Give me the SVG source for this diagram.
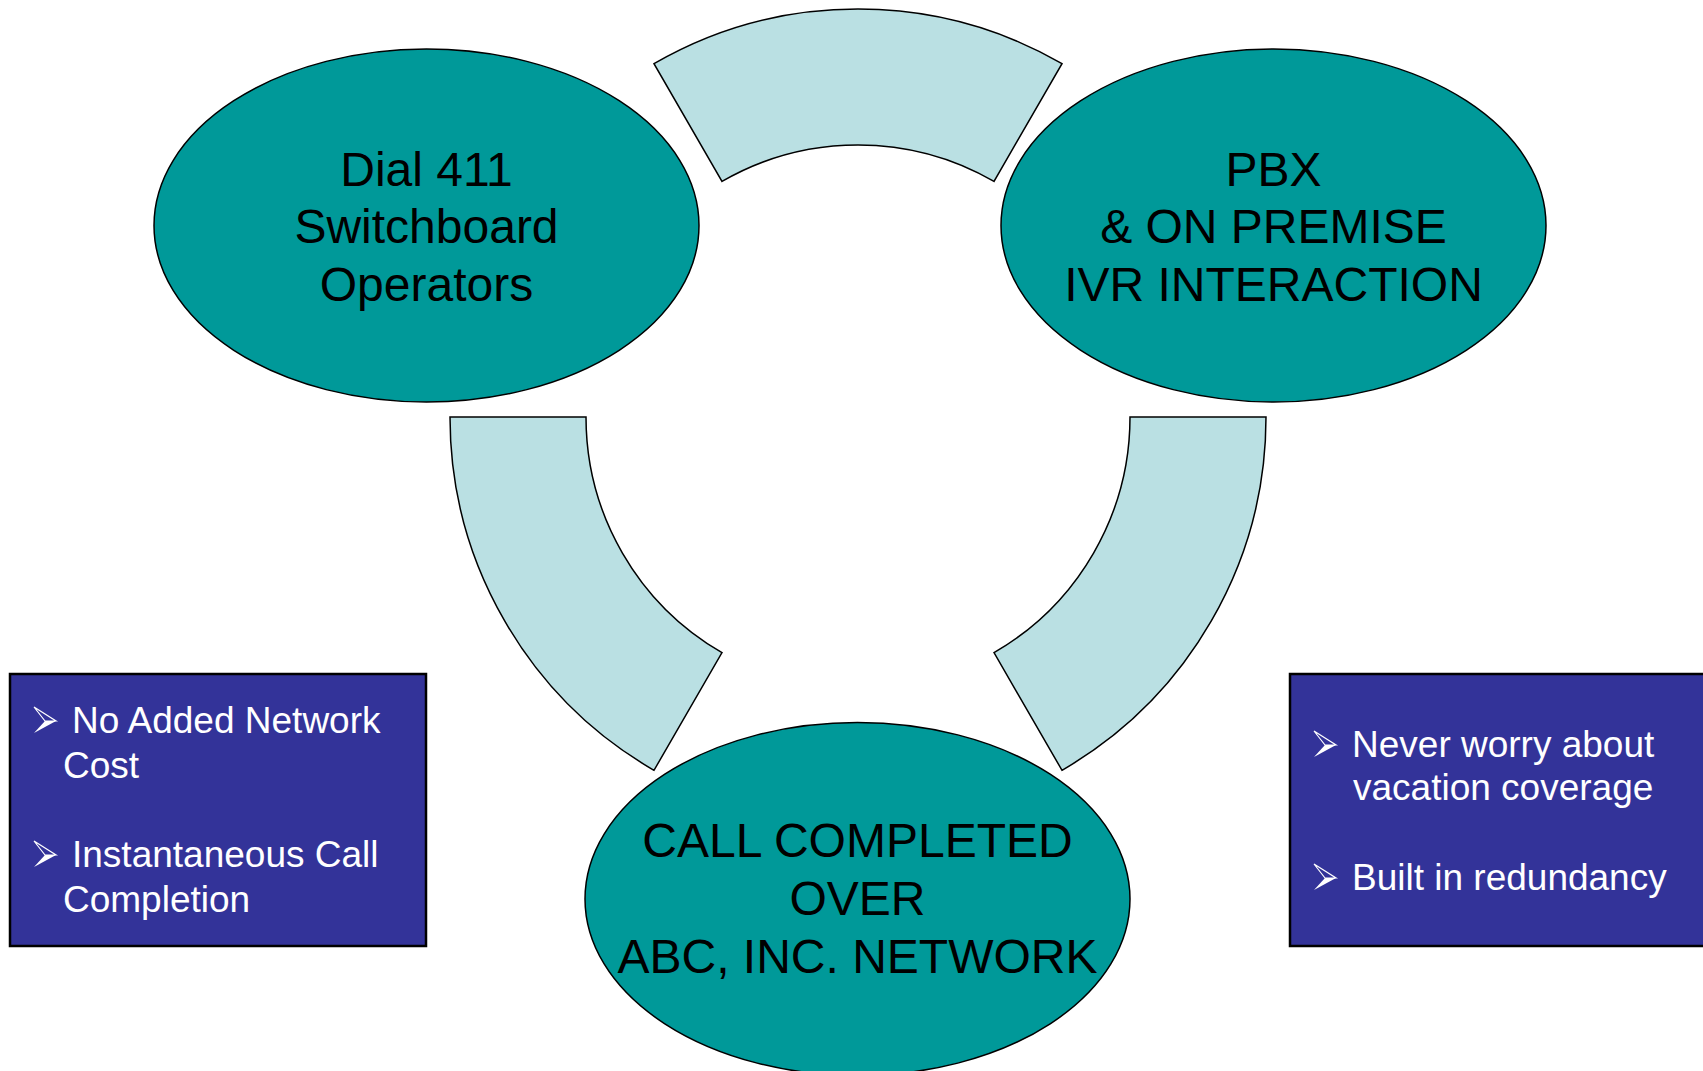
<svg xmlns="http://www.w3.org/2000/svg" width="1703" height="1071" viewBox="0 0 1703 1071">
  <style>
    .node { fill: #009999; stroke: #000; stroke-width: 1.5; }
    .arc { fill: #BAE0E3; stroke: #000; stroke-width: 1.5; stroke-linejoin: miter; }
    .box { fill: #333399; stroke: #000; stroke-width: 2.5; }
    .lbl { font-family: "Liberation Sans", Arial, sans-serif; font-size: 48px; fill: #000; text-anchor: middle; }
    .bul { font-family: "Liberation Sans", Arial, sans-serif; font-size: 37px; fill: #fff; }
  </style>
  <defs>
    <g id="arrowBullet">
      <polygon points="0,0 22,14 11,14" fill="none" stroke="#fff" stroke-width="1.2" stroke-linejoin="miter"/>
      <polygon points="11,14 22,14 0,26" fill="#fff"/>
    </g>
  </defs>
  <rect width="1703" height="1071" fill="#fff"/>

  <g id="connectors">
    <path class="arc" d="M654,63.7 A408,408 0 0 1 1062,63.7 L994,181.4 A272,272 0 0 0 722,181.4 Z"/>
    <path class="arc" d="M450,417 A408,408 0 0 0 654,770.3 L722,652.6 A272,272 0 0 1 586,417 Z"/>
    <path class="arc" d="M1266,417 A408,408 0 0 1 1062,770.3 L994,652.6 A272,272 0 0 0 1130,417 Z"/>
  </g>

  <g id="node-dial411">
    <ellipse class="node" cx="426.5" cy="225.5" rx="272.5" ry="176.5"/>
    <text class="lbl" x="426.5" y="186">Dial 411</text>
    <text class="lbl" x="426.5" y="243">Switchboard</text>
    <text class="lbl" x="426.5" y="301">Operators</text>
  </g>

  <g id="node-pbx">
    <ellipse class="node" cx="1273.5" cy="225.5" rx="272.5" ry="176.5"/>
    <text class="lbl" x="1273.5" y="186">PBX</text>
    <text class="lbl" x="1273.5" y="243">&amp; ON PREMISE</text>
    <text class="lbl" x="1273.5" y="301">IVR INTERACTION</text>
  </g>

  <g id="node-call-completed">
    <ellipse class="node" cx="857.5" cy="899" rx="272.5" ry="176.5"/>
    <text class="lbl" x="857.5" y="857">CALL COMPLETED</text>
    <text class="lbl" x="857.5" y="915">OVER</text>
    <text class="lbl" x="857.5" y="973">ABC, INC. NETWORK</text>
  </g>

  <g id="box-left">
    <rect class="box" x="10" y="674" width="416" height="272"/>
    <use href="#arrowBullet" x="34" y="707"/>
    <text class="bul" x="72" y="733">No Added Network</text>
    <text class="bul" x="63" y="778">Cost</text>
    <use href="#arrowBullet" x="34" y="841"/>
    <text class="bul" x="72" y="867">Instantaneous Call</text>
    <text class="bul" x="63" y="912">Completion</text>
  </g>

  <g id="box-right">
    <rect class="box" x="1290" y="674" width="420" height="272"/>
    <use href="#arrowBullet" x="1314" y="731"/>
    <text class="bul" x="1352" y="757">Never worry about</text>
    <text class="bul" x="1353" y="800">vacation coverage</text>
    <use href="#arrowBullet" x="1314" y="864"/>
    <text class="bul" x="1352" y="890">Built in redundancy</text>
  </g>
</svg>
